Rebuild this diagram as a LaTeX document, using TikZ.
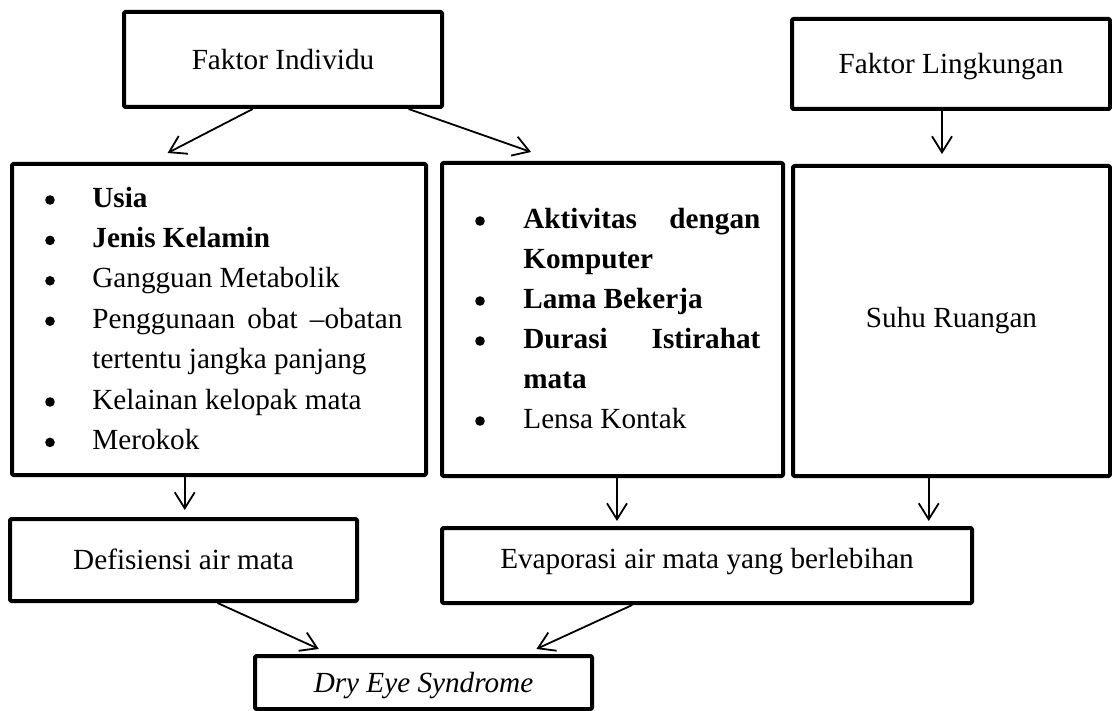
\documentclass[tikz,border=0pt]{standalone}
\usepackage{fontspec}
\setmainfont{Liberation Serif}
\usetikzlibrary{arrows.meta,calc}
\begin{document}
\begin{tikzpicture}[x=0.5pt,y=-0.5pt,
  box/.style={draw, line width=2pt, inner sep=0pt, line join=round, rounded corners=0.6pt,
    font=\fontsize{14.6}{18}\selectfont, text height=9.7pt, text depth=0pt},
  arr/.style={line width=0.9pt, -{Straight Barb[length=8pt,width=10pt,line width=0.9pt]}},
  txt/.style={font=\fontsize{14.6}{18}\selectfont, inner sep=0pt},
  item/.style={txt, anchor=base west},
  bul/.style={circle, fill, inner sep=0pt, minimum size=4.8pt}]
\useasboundingbox (0,0) rectangle (1112,711);
% boxes
\node[box, minimum width=159pt, minimum height=47.5pt] (fi) at (283,59.5) {Faktor Individu};
\node[box, minimum width=159pt, minimum height=45pt] (fl) at (951,64) {Faktor Lingkungan};
\node[box, minimum width=207pt, minimum height=155.5pt] (lb) at (219,319.5) {};
\node[box, minimum width=170.5pt, minimum height=156.5pt] (mb) at (612.5,319.5) {};
\node[box, minimum width=158.5pt, minimum height=155pt, text depth=3pt] (sr) at (951.5,321) {Suhu Ruangan};
\node[box, minimum width=173.5pt, minimum height=41pt] (da) at (183.5,560) {Defisiensi air mata};
\node[box, minimum width=265pt, minimum height=37.5pt, text depth=7pt] (ev) at (707,565.5) {Evaporasi air mata yang berlebihan};
\node[box, minimum width=168.5pt, minimum height=26.5pt] (de) at (423.5,682.5) {\itshape Dry Eye Syndrome};
% left list
\node[bul] (lb1) at (50,200) {};
\node[item] (li1) at (92,207) {\textbf{Usia}};
\node[bul] (lb2) at (50,240.4) {};
\node[item] (li2) at (92,247.4) {\textbf{Jenis Kelamin}};
\node[bul] (lb3) at (50,280.8) {};
\node[item] (li3) at (92,287.8) {Gangguan Metabolik};
\node[bul] (lb4) at (50,321.2) {};
\node[item] (li4) at (92,328.2) {\makebox[155pt][s]{Penggunaan obat –obatan}};
\node[item] (li4b) at (92,368.6) {tertentu jangka panjang};
\node[bul] (lb5) at (50,402) {};
\node[item] (li5) at (92,409) {Kelainan kelopak mata};
\node[bul] (lb6) at (50,442.4) {};
\node[item] (li6) at (92,449.4) {Merokok};
% middle list
\node[bul] (mb1) at (480,221) {};
\node[item] (mi1) at (523,228) {\makebox[118.5pt][s]{\textbf{Aktivitas dengan}}};
\node[item] (mi1b) at (523,268) {\textbf{Komputer}};
\node[bul] (mb2) at (480,301) {};
\node[item] (mi2) at (523,308) {\textbf{Lama Bekerja}};
\node[bul] (mb3) at (480,341) {};
\node[item] (mi3) at (523,348) {\makebox[118.5pt][s]{\textbf{Durasi Istirahat}}};
\node[item] (mi3b) at (523,388) {\textbf{mata}};
\node[bul] (mb4) at (480,421) {};
\node[item] (mi4) at (523,428) {Lensa Kontak};
% arrows
\draw[arr] ($(fi.south west)!0.406!(fi.south east)$) -- ($(lb.north west)!0.377!(lb.north east)+(0,-9)$);
\draw[arr] ($(fi.south west)!0.890!(fi.south east)$) -- ($(mb.north west)!0.264!(mb.north east)+(0,-9)$);
\draw[arr] ($(fl.south west)!0.472!(fl.south east)$) coordinate (s1) -- ($(s1 |- sr.north)+(0,-10)$);
\draw[arr] ($(lb.south west)!0.418!(lb.south east)$) coordinate (s2) -- ($(s2 |- da.north)+(0,-7)$);
\draw[arr] ($(mb.south west)!0.513!(mb.south east)$) coordinate (s3) -- ($(s3 |- ev.north)+(0,-5)$);
\draw[arr] ($(sr.south west)!0.429!(sr.south east)$) coordinate (s4) -- ($(s4 |- ev.north)+(0,-5)$);
\draw[arr] ($(da.south west)!0.597!(da.south east)$) -- ($(de.north west)!0.193!(de.north east)+(0,-5)$);
\draw[arr] ($(ev.south west)!0.360!(ev.south east)$) -- ($(de.north west)!0.831!(de.north east)+(0,-5)$);
\end{tikzpicture}
\end{document}
